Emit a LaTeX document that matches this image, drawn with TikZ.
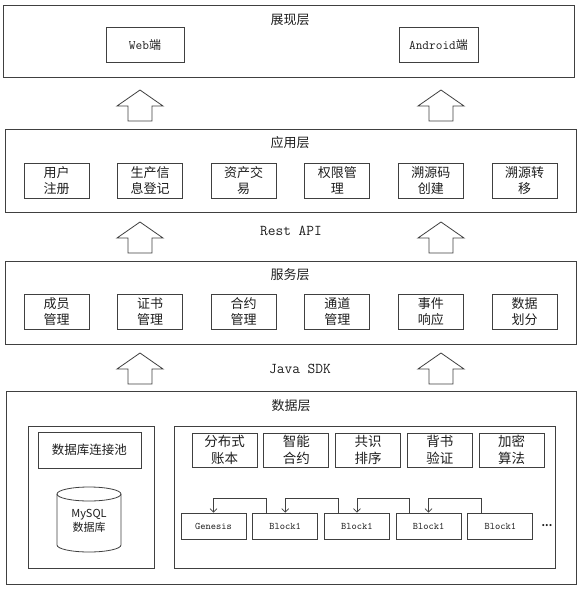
\documentclass[tikz,border=0pt]{standalone}
\usepackage{fontspec}
\setmainfont{Noto Sans CJK SC}
\newfontfamily\codefont{Latin Modern Mono}
\usetikzlibrary{arrows.meta}
\definecolor{linec}{RGB}{64,64,64}
\definecolor{textc}{RGB}{30,30,30}
\tikzset{
  layer/.style={draw=linec, line width=0.8pt, inner sep=0pt, anchor=north west},
  item/.style={draw=linec, line width=0.8pt, inner sep=0pt, minimum width=65pt, minimum height=35pt, align=center, text=textc, font=\fontsize{13}{16}\selectfont},
  title/.style={text=textc, font=\fontsize{13}{16}\selectfont},
  block/.style={item, minimum height=26pt, font=\fontsize{10}{12}\selectfont\codefont},
  bigarrow/.style={draw=linec, line width=0.8pt, fill=white},
  link/.style={draw=linec, line width=0.7pt, -{Straight Barb[length=3.5pt,width=7pt]}}
}
\begin{document}
\begin{tikzpicture}[x=1pt,y=-1pt]
\useasboundingbox (0,0) rectangle (581,590);
% layers
\node[layer, minimum width=571pt, minimum height=72pt] (show) at (3,5) {};
\node[layer, minimum width=571pt, minimum height=83pt] (app) at (5,129) {};
\node[layer, minimum width=571pt, minimum height=83pt] (svc) at (5,261) {};
\node[layer, minimum width=570pt, minimum height=193pt] (data) at (6,391) {};
\node[layer, minimum width=126pt, minimum height=142pt] (dbside) at (28,426) {};
\node[layer, minimum width=381pt, minimum height=142pt] (chain) at (174,426) {};
% titles
\node[title] (showtitle) at (290,20) {展现层};
\node[title] (apptitle) at (290,143) {应用层};
\node[title] (svctitle) at (290,275) {服务层};
\node[title] (datatitle) at (291,406) {数据层};
\node[title, font=\fontsize{15}{17}\selectfont\codefont] (rest) at (291,231) {Rest API};
\node[title, font=\fontsize{15}{17}\selectfont\codefont] (sdk) at (300,369) {Java SDK};
% big arrows
\foreach \ax/\ay in {140/90, 441/90, 140/222, 441/222, 140/353, 441/353}
  \draw[bigarrow] (\ax,\ay) -- ++(23,16) -- ++(-11,0) -- ++(0,15) -- ++(-24,0) -- ++(0,-15) -- ++(-11,0) -- cycle;
% presentation
\node[item, minimum width=78pt, font=\fontsize{12}{14}\selectfont] (web) at (145,44.5) {{\fontsize{13}{14}\selectfont\codefont Web}端};
\node[item, minimum width=79pt, font=\fontsize{12}{14}\selectfont] (android) at (438.5,44.5) {{\fontsize{13}{14}\selectfont\codefont Android}端};
% application
\foreach \txt [count=\i from 0] in {用户\\注册, 生产信\\息登记, 资产交\\易, 权限管\\理, 溯源码\\创建, 溯源转\\移}
  \node[item] (app\i) at (56.5+93.6*\i,180.5) {\txt};
% service
\foreach \txt [count=\i from 0] in {成员\\管理, 证书\\管理, 合约\\管理, 通道\\管理, 事件\\响应, 数据\\划分}
  \node[item] (svc\i) at (56.5+93.6*\i,311.5) {\txt};
% data
\node[item, minimum width=103pt, minimum height=36pt, font=\fontsize{12.5}{15}\selectfont] (pool) at (89.5,450) {数据库连接池};
\draw[linec, line width=0.8pt, fill=white] (57,494) -- (57,545) arc[start angle=180, end angle=0, x radius=32, y radius=7] -- (121,494);
\draw[linec, line width=0.8pt] (89,494) ellipse [x radius=32, y radius=7];
\node[align=center, text=textc, font=\fontsize{11}{14}\selectfont] (db) at (89,521) {MySQL\\数据库};
\foreach \txt [count=\i from 0] in {分布式\\账本, 智能\\合约, 共识\\排序, 背书\\验证, 加密\\算法}
  \node[item, minimum height=34pt, font=\fontsize{13.5}{17}\selectfont] (core\i) at (224.5+71.75*\i,450) {\txt};
\foreach \txt [count=\i from 0] in {Genesis, Block1, Block1, Block1, Block1}
  \node[block] (b\i) at (213.5+71.7*\i,526) {\txt};
\node[text=textc, font=\bfseries\fontsize{10}{12}\selectfont] (more) at (547,526) {...};
\foreach \i [count=\j from 0] in {1,...,4}
  \draw[link] ([xshift=14pt]b\i.north west) -- ++(0,-14) -| (b\j.north);
\end{tikzpicture}
\end{document}
